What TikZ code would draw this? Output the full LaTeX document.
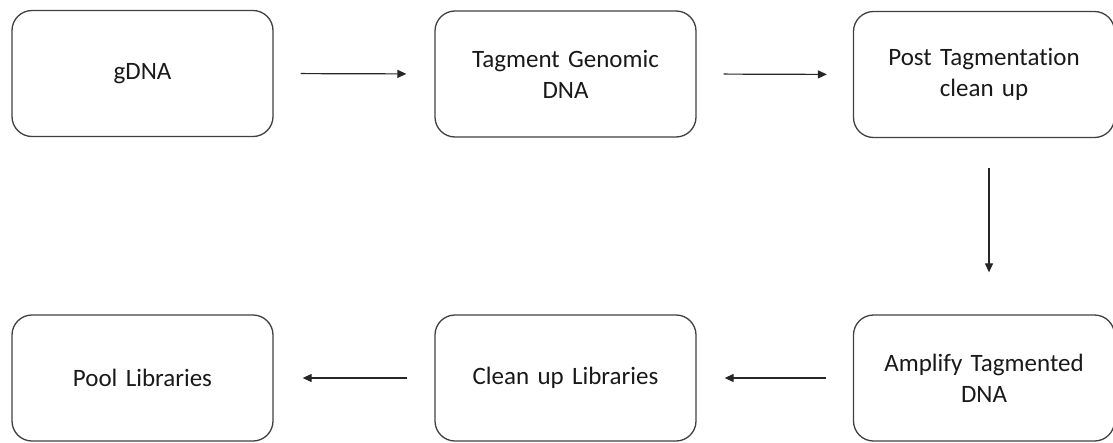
\documentclass[tikz,border=0pt]{standalone}
\usepackage{fontspec}
\setmainfont{Carlito}[Ligatures=NoCommon]
\usetikzlibrary{arrows.meta}
\begin{document}
\begin{tikzpicture}[x=1pt,y=1pt,
  stepbox/.style={draw=black!75, line width=1.3pt, rounded corners=20pt,
    minimum width=261pt, minimum height=126pt, inner sep=0pt,
    align=center, text width=250pt,
    font=\fontsize{25}{31}\selectfont, text=black!90},
  flow/.style={draw=black!85, line width=1.2pt, -{Triangle[length=9pt,width=8pt]}}]
\useasboundingbox (0,0) rectangle (1113,-442);
\node[stepbox] (b1) at (142.5,-73.5) {gDNA};
\node[stepbox] (b2) at (565.5,-74) {Tagment Genomic\\DNA};
\node[stepbox] (b3) at (984,-74.5) {Post Tagmentation\\clean up};
\node[stepbox] (b4) at (984,-378) {Amplify Tagmented\\DNA};
\node[stepbox] (b5) at (565.5,-378) {Clean up Libraries};
\node[stepbox] (b6) at (142.5,-378) {Pool Libraries};
\draw[flow, shorten <=27pt, shorten >=28pt] (b1.east) -- (b2.west);
\draw[flow, shorten <=27pt, shorten >=26pt] (b2.east) -- (b3.west);
\draw[flow, shorten <=30pt, shorten >=42pt] ([xshift=5pt]b3.south) -- ([xshift=5pt]b4.north);
\draw[flow, shorten <=27pt, shorten >=28pt] (b4.west) -- (b5.east);
\draw[flow, shorten <=27pt, shorten >=29pt] (b5.west) -- (b6.east);
\end{tikzpicture}
\end{document}
